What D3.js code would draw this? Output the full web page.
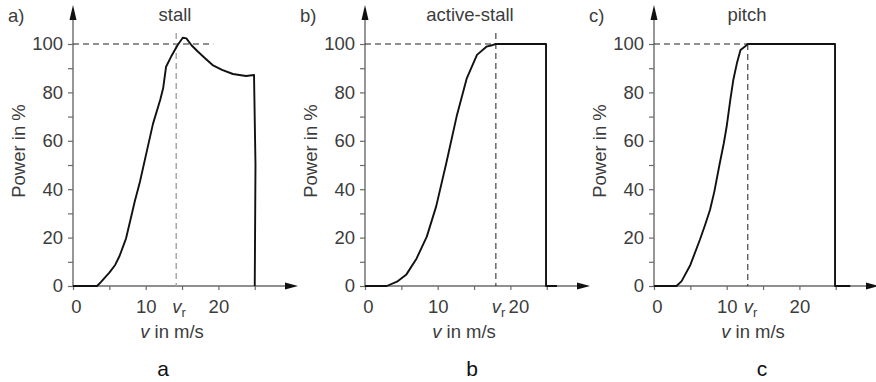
<!DOCTYPE html>
<html>
<head>
<meta charset="utf-8">
<script src="https://cdn.jsdelivr.net/npm/d3@7"></script>
<style>
  body { margin: 0; background: #fff; }
  svg { display: block; }
  text { font-family: "Liberation Sans", Arial, sans-serif; }
</style>
</head>
<body>
<svg width="876" height="382"></svg>
<script>
// wind speeds (m/s) and power (%)
var stallV = [0, 3.3, 3.8, 5.0, 5.8, 6.4, 7.3, 8.0, 8.5, 9.2, 10.1, 11.0, 12.0, 12.4, 12.8, 13.5, 14.4, 15.1, 15.6, 16.3, 17.2, 18.2, 19.2, 20.5, 22.0, 23.8, 24.9, 25.1, 25.0];
var stallP = [0, 0, 1.5, 5.5, 8.7, 12.4, 19.7, 28.6, 35, 43, 55, 67, 77, 81.7, 90.6, 94.8, 99.6, 102.6, 102.3, 99.5, 96.8, 94, 91.3, 89.3, 87.6, 86.8, 87.2, 50, 0];

var activeV = [0, 3.0, 4.4, 5.7, 7.1, 8.5, 9.8, 11.2, 12.6, 14.0, 15.4, 16.7, 17.6, 18.0, 24.9, 24.9, 26.4];
var activeP = [0, 0, 1.8, 4.8, 11.4, 20.4, 33, 51, 70, 85.8, 95.5, 98.9, 99.6, 100, 100, 0, 0];

var pitchV = [0, 3.1, 3.8, 5.0, 6.3, 7.0, 7.7, 8.3, 9.0, 9.6, 10.0, 10.5, 10.9, 11.4, 11.9, 12.6, 12.9, 24.9, 24.9, 27.0];
var pitchP = [0, 0, 2, 8.7, 19, 25, 31.4, 39, 50, 59, 66, 77, 85, 92, 97.5, 99.2, 100, 100, 0, 0];

var titles = ["stall", "active-stall", "pitch"];
var panelTags = ["a)", "b)", "c)"];
var captions = ["a", "b", "c"];
var ratedV = [14.2, 18.0, 12.9];
var refLineEnd = [19.3, 18.0, 12.9];   // where the dashed 100% line stops
var yTicks = [0, 10, 20, 30, 40, 50, 60, 70, 80, 90, 100];
var yLabels = [0, 20, 40, 60, 80, 100];
var xTicks = [0, 5, 10, 15, 20, 25];
var xLabels = [0, 10, 20];

var series = [
  { v: stallV, p: stallP },
  { v: activeV, p: activeP },
  { v: pitchV, p: pitchP }
];

var svg = d3.select("svg");
var origins = [73, 365, 654];
var pxPerUnit = 7.27;
var textCol = "#3c3c3c", axisCol = "#6a6a6a";
var fs = "18.5px";

var y = d3.scaleLinear().domain([0, 100]).range([286, 44]);

origins.forEach(function (ox, i) {
  var x = d3.scaleLinear().domain([0, 25]).range([ox, ox + 25 * pxPerUnit]);
  var g = svg.append("g");

  // y axis ticks/labels
  var ya = g.append("g")
    .attr("transform", "translate(" + ox + ",0)")
    .call(d3.axisLeft(y).tickValues(yTicks).tickSize(5).tickPadding(5)
      .tickFormat(function (d) { return yLabels.indexOf(d) >= 0 ? d : ""; }));
  ya.select(".domain").remove();
  ya.selectAll("line").attr("stroke", axisCol).attr("stroke-width", 1.2);
  ya.selectAll("text").attr("font-size", fs).attr("fill", textCol)
    .attr("font-family", "Liberation Sans, Arial, sans-serif");

  // x axis ticks/labels
  var xa = g.append("g")
    .attr("transform", "translate(0," + y(0) + ")")
    .call(d3.axisBottom(x).tickValues(xTicks).tickSize(4).tickPadding(10)
      .tickFormat(function (d) { return xLabels.indexOf(d) >= 0 ? d : ""; }));
  xa.select(".domain").remove();
  xa.selectAll("line").attr("stroke", axisCol).attr("stroke-width", 1.2);
  xa.selectAll("text").attr("font-size", fs).attr("fill", textCol)
    .attr("font-family", "Liberation Sans, Arial, sans-serif")
    .attr("dx", function (d) { return (i == 1 && d == 20) ? 8 : (d == 0 ? 3 : 0); });

  // axis lines with arrows
  var xEnd = ox + 225, yTop = 5;
  g.append("line").attr("x1", ox).attr("x2", ox).attr("y1", y(0)).attr("y2", yTop + 8)
    .attr("stroke", axisCol).attr("stroke-width", 1.4);
  g.append("path")
    .attr("d", "M" + ox + "," + yTop + "L" + (ox - 3.5) + "," + (yTop + 15) + "L" + (ox + 3.5) + "," + (yTop + 15) + "Z")
    .attr("fill", "#111");
  g.append("line").attr("x1", ox).attr("x2", xEnd - 8).attr("y1", y(0)).attr("y2", y(0))
    .attr("stroke", axisCol).attr("stroke-width", 1.4);
  g.append("path")
    .attr("d", "M" + xEnd + "," + y(0) + "L" + (xEnd - 13) + "," + (y(0) - 3.5) + "L" + (xEnd - 13) + "," + (y(0) + 3.5) + "Z")
    .attr("fill", "#111");

  // dashed reference lines
  g.append("line")
    .attr("x1", x(0)).attr("x2", x(refLineEnd[i]))
    .attr("y1", y(100)).attr("y2", y(100))
    .attr("stroke", "#222").attr("stroke-width", 1.1).attr("stroke-dasharray", "6,4");
  g.append("line")
    .attr("x1", x(ratedV[i])).attr("x2", x(ratedV[i]))
    .attr("y1", i == 2 ? y(100) : 33).attr("y2", y(0))
    .attr("stroke", i == 0 ? "#a8a8a8" : "#333")
    .attr("stroke-width", i == 0 ? 1.5 : 1.1)
    .attr("stroke-dasharray", "6,4");

  // power curve
  var s = series[i];
  var pts = s.v.map(function (v, k) { return [v, s.p[k]]; });
  g.append("path")
    .datum(pts)
    .attr("d", d3.line().x(function (d) { return x(d[0]); }).y(function (d) { return y(d[1]); }))
    .attr("fill", "none").attr("stroke", "#111").attr("stroke-width", 1.9)
    .attr("stroke-linejoin", "round");

  // v_r label
  var vr = g.append("text")
    .attr("x", x(ratedV[i]) - 4).attr("y", 313)
    .attr("font-size", fs).attr("fill", textCol);
  vr.append("tspan").attr("font-style", "italic").text("v");
  vr.append("tspan").attr("font-size", "13px").attr("dy", 4).text("r");

  // texts
  g.append("text").attr("x", ox - 65).attr("y", 22)
    .attr("font-size", fs).attr("fill", textCol).text(panelTags[i]);
  g.append("text").attr("x", ox + [102, 105, 93][i]).attr("y", 21)
    .attr("text-anchor", "middle").attr("font-size", fs).attr("fill", textCol).text(titles[i]);
  g.append("text")
    .attr("transform", "translate(" + (ox - 48) + ",151) rotate(-90)")
    .attr("text-anchor", "middle").attr("font-size", fs).attr("fill", textCol)
    .text("Power in %");
  var xl = g.append("text").attr("x", ox + 99).attr("y", 338)
    .attr("text-anchor", "middle").attr("font-size", fs).attr("fill", textCol);
  xl.append("tspan").attr("font-style", "italic").text("v");
  xl.append("tspan").text(" in m/s");

  g.append("text").attr("x", ox + [90, 107, 108][i]).attr("y", 376)
    .attr("text-anchor", "middle").attr("font-size", "21px").attr("fill", "#111")
    .attr("font-family", "Liberation Serif, Times New Roman, serif")
    .text(captions[i]);
});
</script>
</body>
</html>
